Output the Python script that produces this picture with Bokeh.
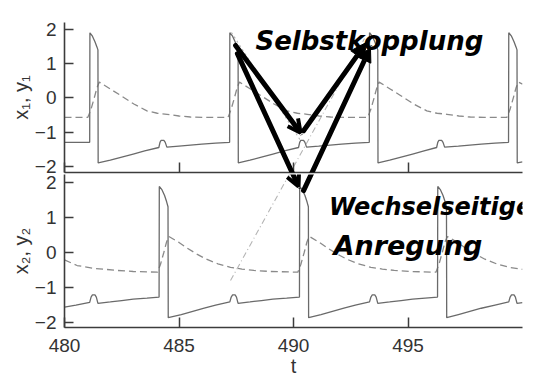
from bokeh.plotting import figure
from bokeh.layouts import column
from bokeh.models import Range1d, FixedTicker, Arrow, OpenHead, NormalHead, Label
from bokeh.embed import file_html
from bokeh.resources import INLINE

# ---- neuron 1: membrane variable x1 (solid) and recovery variable y1 (dashed)
t_x1 = [480.00, 481.10,
        481.11, 481.22, 481.33, 481.42, 481.46, 481.47, 482.00, 482.50, 483.00, 483.50,
        484.12, 484.17, 484.22, 484.34, 484.40, 484.47, 485.00, 485.50, 486.00, 486.60, 487.21,
        487.22, 487.34, 487.45, 487.54, 487.58, 487.59, 488.10, 488.60, 489.10, 489.60,
        490.22, 490.27, 490.32, 490.44, 490.50, 490.57, 491.10, 491.60, 492.10, 492.70, 493.31,
        493.32, 493.44, 493.55, 493.64, 493.68, 493.69, 494.20, 494.70, 495.20, 495.70,
        496.25, 496.30, 496.35, 496.47, 496.53, 496.60, 497.20, 497.70, 498.20, 498.80, 499.39,
        499.40, 499.52, 499.63, 499.72, 499.76, 499.77, 500.00]
x1 = [-1.30, -1.30,
      1.90, 1.80, 1.64, 1.48, 1.40, -1.90, -1.82, -1.73, -1.64, -1.55,
      -1.45, -1.30, -1.24, -1.24, -1.30, -1.44, -1.41, -1.38, -1.35, -1.32, -1.30,
      1.90, 1.80, 1.64, 1.48, 1.40, -1.90, -1.82, -1.73, -1.64, -1.55,
      -1.45, -1.30, -1.24, -1.24, -1.30, -1.44, -1.41, -1.38, -1.35, -1.32, -1.30,
      1.90, 1.80, 1.64, 1.48, 1.40, -1.90, -1.82, -1.73, -1.64, -1.55,
      -1.45, -1.30, -1.24, -1.24, -1.30, -1.44, -1.41, -1.38, -1.35, -1.32, -1.30,
      1.90, 1.80, 1.64, 1.48, 1.40, -1.90, -1.87]

t_y1 = [480.00, 481.02, 481.15, 481.30, 481.42, 481.52, 482.00, 482.45, 483.03, 483.60,
        484.05, 484.48, 485.00, 485.50, 486.10, 487.14,
        487.27, 487.42, 487.54, 487.64, 488.12, 488.57, 489.15, 489.72,
        490.17, 490.60, 491.12, 491.62, 492.22, 493.24,
        493.37, 493.52, 493.64, 493.74, 494.22, 494.67, 495.25, 495.82,
        496.27, 496.70, 497.22, 497.72, 498.32, 499.32,
        499.45, 499.60, 499.72, 499.82, 500.00]
y1 = [-0.57, -0.57, -0.35, 0.00, 0.30, 0.46, 0.26, 0.07, -0.18, -0.38,
      -0.45, -0.48, -0.53, -0.56, -0.57, -0.57,
      -0.35, 0.00, 0.30, 0.46, 0.26, 0.07, -0.18, -0.38,
      -0.45, -0.48, -0.53, -0.56, -0.57, -0.57,
      -0.35, 0.00, 0.30, 0.46, 0.26, 0.07, -0.18, -0.38,
      -0.45, -0.48, -0.53, -0.56, -0.57, -0.57,
      -0.35, 0.00, 0.30, 0.46, 0.40]

# ---- neuron 2: x2 (solid) and y2 (dashed)
t_x2 = [480.00, 480.50, 481.10, 481.16, 481.22, 481.33, 481.39, 481.46, 482.00, 482.50,
        483.00, 483.60, 484.13,
        484.14, 484.26, 484.37, 484.46, 484.52, 484.53, 485.10, 485.60, 486.10, 486.60,
        487.22, 487.28, 487.34, 487.45, 487.51, 487.58, 488.10, 488.60, 489.10, 489.70, 490.26,
        490.27, 490.39, 490.50, 490.59, 490.65, 490.66, 491.20, 491.70, 492.20, 492.70,
        493.32, 493.38, 493.44, 493.55, 493.61, 493.68, 494.20, 494.70, 495.20, 495.75, 496.29,
        496.30, 496.42, 496.53, 496.62, 496.68, 496.69, 497.20, 497.70, 498.20, 498.80,
        499.40, 499.46, 499.52, 499.63, 499.69, 499.76, 500.00]
x2 = [-1.57, -1.51, -1.43, -1.28, -1.22, -1.22, -1.28, -1.46, -1.42, -1.38,
      -1.34, -1.31, -1.28,
      1.88, 1.78, 1.62, 1.44, 1.30, -1.87, -1.78, -1.69, -1.60, -1.51,
      -1.42, -1.28, -1.22, -1.22, -1.28, -1.46, -1.42, -1.38, -1.34, -1.31, -1.28,
      1.88, 1.78, 1.62, 1.44, 1.30, -1.87, -1.78, -1.69, -1.60, -1.51,
      -1.42, -1.28, -1.22, -1.22, -1.28, -1.46, -1.42, -1.38, -1.34, -1.31, -1.28,
      1.88, 1.78, 1.62, 1.44, 1.30, -1.87, -1.78, -1.69, -1.60, -1.51,
      -1.42, -1.28, -1.22, -1.22, -1.28, -1.46, -1.44]

t_y2 = [480.00, 480.55, 481.28, 482.30, 483.00, 484.06,
        484.19, 484.34, 484.46, 484.56, 485.00, 485.35, 485.80, 486.20, 486.70,
        487.25, 487.75, 488.27, 489.00, 490.19,
        490.32, 490.47, 490.59, 490.69, 491.13, 491.48, 491.93, 492.33, 492.83,
        493.38, 493.88, 494.40, 495.13, 496.22,
        496.35, 496.50, 496.62, 496.72, 497.16, 497.51, 497.96, 498.36, 498.86,
        499.41, 500.00]
y2 = [-0.22, -0.38, -0.46, -0.52, -0.55, -0.57,
      -0.35, 0.00, 0.30, 0.45, 0.28, 0.12, -0.06, -0.20, -0.33,
      -0.43, -0.48, -0.52, -0.55, -0.57,
      -0.35, 0.00, 0.30, 0.45, 0.28, 0.12, -0.06, -0.20, -0.33,
      -0.43, -0.48, -0.52, -0.55, -0.57,
      -0.35, 0.00, 0.30, 0.45, 0.28, 0.12, -0.06, -0.20, -0.33,
      -0.43, -0.49]

x_ticks = [480, 485, 490, 495]
y_ticks = [-2, -1, 0, 1, 2]

AXIS = "#3c3c3c"
TICK_TEXT = "#333333"
SOLID = "#6a6a6a"
DASHED = "#8a8a8a"
FONT = "Liberation Sans"
HAND = "DejaVu Sans"


def panel(y_lo, y_hi, frame_h, b_top, b_bottom, ylabel):
    p = figure(frame_width=458, frame_height=frame_h,
               x_range=Range1d(480, 500), y_range=Range1d(y_lo, y_hi),
               output_backend="svg", toolbar_location=None,
               min_border_left=64, min_border_right=38,
               min_border_top=b_top, min_border_bottom=b_bottom)
    p.grid.visible = False
    p.outline_line_color = None
    for ax in (p.xaxis[0], p.yaxis[0]):
        ax.axis_line_color = AXIS
        ax.axis_line_width = 1.6
        ax.major_tick_line_color = AXIS
        ax.major_tick_line_width = 1.5
        ax.major_tick_out = 0
        ax.minor_tick_line_color = None
        ax.major_label_text_font = FONT
        ax.major_label_text_font_size = "19px"
        ax.major_label_text_color = TICK_TEXT
        ax.axis_label_text_font = FONT
        ax.axis_label_text_font_style = "normal"
        ax.axis_label_text_font_size = "20px"
        ax.axis_label_text_color = TICK_TEXT
    p.xaxis.ticker = FixedTicker(ticks=x_ticks)
    p.yaxis.ticker = FixedTicker(ticks=y_ticks)
    p.xaxis.major_tick_in = 10
    p.yaxis.major_tick_in = 9
    p.yaxis.major_label_standoff = 8
    p.yaxis.axis_label = ylabel
    p.yaxis.axis_label_standoff = 0
    return p


# upper panel: its time axis is only the dividing line with inward ticks;
# the extra bottom border leaves room for its lowest tick label
top = panel(-2.18, 2.20, 150, 22, 8, "x\u2081, y\u2081")
top.xaxis.major_label_text_color = None
top.xaxis.major_label_standoff = 0

# lower panel is pulled up over that border and kept transparent
bot = panel(-2.15, 2.22, 153, 4, 58, "x\u2082, y\u2082")
bot.margin = (-10, 0, 0, 0)
bot.border_fill_color = None
bot.background_fill_color = None
bot.xaxis.major_label_standoff = 11
bot.xaxis.axis_label = "t"
bot.xaxis.axis_label_standoff = 0

# time series
top.line(t_y1, y1, line_color=DASHED, line_width=1.3, line_dash="7 4")
top.line(t_x1, x1, line_color=SOLID, line_width=1.3)
bot.line(t_y2, y2, line_color=DASHED, line_width=1.3, line_dash="7 4")
bot.line(t_x2, x2, line_color=SOLID, line_width=1.3)

# faint guide lines (the dash-dot one runs across both panels)
top.line([487.25, 493.10], [-5.34, 1.73], line_color="#b4b4b4", line_width=1.1, line_dash="6 3 1 3")
bot.line([487.25, 493.10], [-0.81, 6.10], line_color="#b4b4b4", line_width=1.1, line_dash="6 3 1 3")
top.line([487.29, 490.31], [1.91, -1.25], line_color="#b4b4b4", line_width=1.1, line_dash="2 3")

# hand-drawn arrows
INK = dict(line_color="black", line_width=5, line_cap="round")
top.add_layout(Arrow(x_start=487.47, y_start=1.53, x_end=490.31, y_end=-1.02,
                     end=OpenHead(size=13, line_width=4, line_color="black"), **INK))
top.add_layout(Arrow(x_start=487.55, y_start=1.29, x_end=490.22, y_end=-2.59, end=None, **INK))
bot.add_layout(Arrow(x_start=487.55, y_start=5.68, x_end=490.22, y_end=1.88,
                     end=OpenHead(size=13, line_width=4, line_color="black"), **INK))
top.add_layout(Arrow(x_start=490.44, y_start=-0.96, x_end=493.19, y_end=1.62,
                     end=NormalHead(size=16, fill_color="black", line_color="black"), **INK))
top.add_layout(Arrow(x_start=490.44, y_start=-2.71, x_end=493.36, y_end=1.47,
                     end=NormalHead(size=14, fill_color="black", line_color="black"), **INK))
bot.add_layout(Arrow(x_start=490.44, y_start=1.76, x_end=493.36, y_end=5.85, end=None, **INK))

# handwritten notes
top.add_layout(Label(x=488.34, y=1.67, text="Selbstkopplung", text_font=HAND,
                     text_font_style="bold italic", text_font_size="26px",
                     text_color="black", text_baseline="alphabetic"))
bot.add_layout(Label(x=491.55, y=1.28, text="Wechselseitige", text_font=HAND,
                     text_font_style="bold italic", text_font_size="24px",
                     text_color="black", text_baseline="alphabetic"))
bot.add_layout(Label(x=491.75, y=0.19, text="Anregung", text_font=HAND,
                     text_font_style="bold italic", text_font_size="27px",
                     text_color="black", text_baseline="alphabetic"))

layout = column(top, bot, spacing=0)
open("out.html", "w").write(file_html(layout, INLINE))
